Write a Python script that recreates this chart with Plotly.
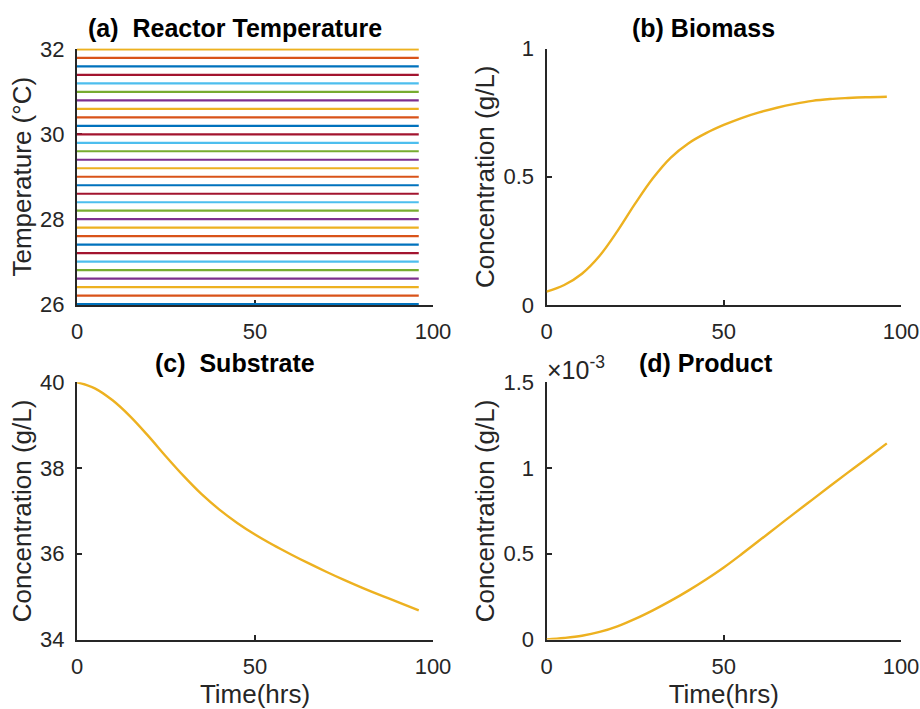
import plotly.graph_objects as go

# Time grid and simulated bioreactor trajectories (hours, g/L)
time_hrs = [0, 5, 10, 15, 20, 25, 30, 35, 40, 45, 50, 55, 60, 65, 70, 75, 80, 85, 90, 96]
biomass = [0.052, 0.078, 0.122, 0.192, 0.288, 0.395, 0.494, 0.574, 0.630, 0.670, 0.702,
           0.729, 0.751, 0.769, 0.784, 0.796, 0.803, 0.807, 0.810, 0.812]
substrate = [40.0, 39.86, 39.58, 39.20, 38.75, 38.27, 37.81, 37.39, 37.03, 36.72, 36.45,
             36.21, 35.99, 35.78, 35.58, 35.39, 35.21, 35.04, 34.88, 34.68]
product = [0.0, 0.009e-3, 0.022e-3, 0.044e-3, 0.077e-3, 0.120e-3, 0.170e-3, 0.225e-3,
           0.285e-3, 0.350e-3, 0.420e-3, 0.497e-3, 0.577e-3, 0.657e-3, 0.737e-3,
           0.816e-3, 0.895e-3, 0.973e-3, 1.050e-3, 1.144e-3]

# Reactor temperature set-points (one constant profile each)
temperatures = [26.0, 26.2, 26.4, 26.6, 26.8, 27.0, 27.2, 27.4, 27.6, 27.8, 28.0,
                28.2, 28.4, 28.6, 28.8, 29.0, 29.2, 29.4, 29.6, 29.8, 30.0,
                30.2, 30.4, 30.6, 30.8, 31.0, 31.2, 31.4, 31.6, 31.8, 32.0]
temp_time = [0, 96]

# Axis ticks
x_ticks = [0, 50, 100]
temp_ticks = [26, 28, 30, 32]
biomass_ticks = [0, 0.5, 1]
biomass_ticktext = ["0", "0.5", "1"]
substrate_ticks = [34, 36, 38, 40]
product_ticks = [0, 0.5e-3, 1.0e-3, 1.5e-3]
product_ticktext = ["0", "0.5", "1", "1.5"]

palette = ["#0072BD", "#D95319", "#EDB120", "#7E2F8E", "#77AC30", "#4DBEEE", "#A2142F"]
curve_color = "#EDB120"
axis_color = "#262626"
FONT = "Liberation Sans, Arial, Helvetica, sans-serif"

fig = go.Figure()

for i, T in enumerate(temperatures):
    fig.add_trace(go.Scatter(x=temp_time, y=[T, T], mode="lines",
                             line=dict(color=palette[i % 7], width=2.2),
                             xaxis="x", yaxis="y", showlegend=False))

fig.add_trace(go.Scatter(x=time_hrs, y=biomass, mode="lines", line_shape="spline",
                         line=dict(color=curve_color, width=2.4),
                         xaxis="x2", yaxis="y2", showlegend=False))
fig.add_trace(go.Scatter(x=time_hrs, y=substrate, mode="lines", line_shape="spline",
                         line=dict(color=curve_color, width=2.4),
                         xaxis="x3", yaxis="y3", showlegend=False))
fig.add_trace(go.Scatter(x=time_hrs, y=product, mode="lines", line_shape="spline",
                         line=dict(color=curve_color, width=2.4),
                         xaxis="x4", yaxis="y4", showlegend=False))

W, H = 920, 709
left_dom = [77 / W, 433 / W]
right_dom = [546.5 / W, 901 / W]
top_dom = [1 - 305 / H, 1 - 48.5 / H]
bot_dom = [1 - 639.5 / H, 1 - 382.3 / H]

common = dict(showline=True, linecolor=axis_color, linewidth=2, ticks="inside",
              ticklen=5, tickwidth=1.5, tickcolor=axis_color, showgrid=False,
              zeroline=False, tickfont=dict(family=FONT, size=22, color=axis_color),
              mirror=False, automargin=False, layer="below traces")
title_font = dict(family=FONT, size=26, color=axis_color)


def xaxis(dom, anchor, with_title):
    d = dict(common, domain=dom, anchor=anchor, range=[0, 100], tickvals=x_ticks,
             ticklabelstandoff=6)
    if with_title:
        d["title"] = dict(text="Time(hrs)", font=title_font, standoff=7)
    return d


def yaxis(dom, anchor, rng, tickvals, ticktext, title):
    return dict(common, domain=dom, anchor=anchor, range=rng, tickvals=tickvals,
                ticktext=ticktext, ticklabelstandoff=6,
                title=dict(text=title, font=title_font, standoff=1))


fig.update_layout(
    width=W, height=H,
    margin=dict(l=0, r=0, t=0, b=0, autoexpand=False),
    paper_bgcolor="white", plot_bgcolor="white",
    xaxis=xaxis(left_dom, "y", False),
    yaxis=yaxis(top_dom, "x", [25.98, 32.02], temp_ticks,
                [str(v) for v in temp_ticks], "Temperature (°C)"),
    xaxis2=xaxis(right_dom, "y2", False),
    yaxis2=yaxis(top_dom, "x2", [0, 1], biomass_ticks, biomass_ticktext,
                 "Concentration (g/L)"),
    xaxis3=xaxis(left_dom, "y3", True),
    yaxis3=yaxis(bot_dom, "x3", [34, 40], substrate_ticks,
                 [str(v) for v in substrate_ticks], "Concentration (g/L)"),
    xaxis4=xaxis(right_dom, "y4", True),
    yaxis4=yaxis(bot_dom, "x4", [0, 1.5e-3], product_ticks, product_ticktext,
                 "Concentration (g/L)"),
)

titles = [
    ("<b>(a)  Reactor Temperature</b>", 235, 28),
    ("<b>(b) Biomass</b>", 703, 28),
    ("<b>(c)  Substrate</b>", 235, 363),
    ("<b>(d) Product</b>", 706, 363),
]
for text, px, py in titles:
    fig.add_annotation(text=text, x=px / W, y=1 - py / H, xref="paper", yref="paper",
                       showarrow=False, xanchor="center", yanchor="middle",
                       font=dict(family=FONT, size=25, color="black"))

# Exponent multiplier for the product axis
fig.add_annotation(text="×10<sup>-3</sup>", x=545 / W, y=1 - 368 / H,
                   xref="paper", yref="paper", showarrow=False,
                   xanchor="left", yanchor="middle",
                   font=dict(family=FONT, size=25, color=axis_color))

fig.write_html("out.html")
